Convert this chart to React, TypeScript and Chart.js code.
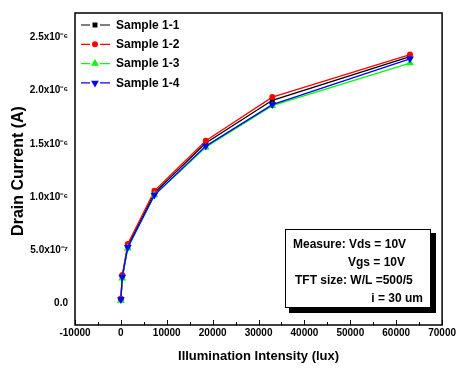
import React, { useEffect, useRef } from 'react';
import { Chart, registerables } from 'chart.js';
Chart.register(...registerables);

const illuminance = [0, 300, 1500, 7300, 18500, 33000, 63000];
const sample11 = [0.04e-6, 0.25e-6, 0.54e-6, 1.04e-6, 1.51e-6, 1.91e-6, 2.32e-6];
const sample12 = [0.05e-6, 0.27e-6, 0.56e-6, 1.06e-6, 1.53e-6, 1.94e-6, 2.34e-6];
const sample13 = [0.03e-6, 0.24e-6, 0.52e-6, 1.02e-6, 1.47e-6, 1.86e-6, 2.26e-6];
const sample14 = [0.04e-6, 0.25e-6, 0.53e-6, 1.02e-6, 1.48e-6, 1.87e-6, 2.30e-6];

const seriesNames = ['Sample 1-1', 'Sample 1-2', 'Sample 1-3', 'Sample 1-4'];
const seriesValues = [sample11, sample12, sample13, sample14];
const seriesColors = ['#000000', '#ff0000', '#00ff00', '#0000ff'];

const yTickValues = [0, 5e-7, 1e-6, 1.5e-6, 2e-6, 2.5e-6];
const yTickLabels = ['0.0', '5.0x10⁻⁷', '1.0x10⁻⁶', '1.5x10⁻⁶', '2.0x10⁻⁶', '2.5x10⁻⁶'];
const xTickValues = [-10000, 0, 10000, 20000, 30000, 40000, 50000, 60000, 70000];

const xTitle = 'Illumination Intensity (lux)';
const yTitle = 'Drain Current (A)';
const noteLines = ['Measure: Vds = 10V', 'Vgs = 10V', 'TFT size: W/L =500/5', 'i = 30 um'];

const FONT = "'Liberation Sans', Arial, sans-serif";
const pointStyles = ['rect', 'circle', 'triangle', 'triangle'];
const pointRotations = [0, 0, 0, 180];
const pointRadii = [3.5, 3, 4.5, 4.5];

function drawMarker(ctx: CanvasRenderingContext2D, i: number, x: number, y: number) {
  ctx.fillStyle = seriesColors[i];
  const r = pointRadii[i];
  ctx.beginPath();
  if (i === 0) {
    const s = r * Math.SQRT1_2;
    ctx.rect(x - s, y - s, 2 * s, 2 * s);
  } else if (i === 1) {
    ctx.arc(x, y, r, 0, Math.PI * 2);
  } else {
    const dir = i === 2 ? -1 : 1;
    ctx.moveTo(x, y + dir * r);
    ctx.lineTo(x - r * Math.sin(Math.PI / 3), y - dir * r * 0.5);
    ctx.lineTo(x + r * Math.sin(Math.PI / 3), y - dir * r * 0.5);
    ctx.closePath();
  }
  ctx.fill();
}

const overlayPlugin = {
  id: 'overlay',
  afterDraw(chart: any) {
    const ctx: CanvasRenderingContext2D = chart.ctx;
    const a = chart.chartArea;
    ctx.save();
    // frame
    ctx.strokeStyle = '#000';
    ctx.lineWidth = 1.5;
    ctx.strokeRect(a.left, a.top, a.right - a.left, a.bottom - a.top);
    // inward ticks bottom
    const xs = chart.scales.x;
    ctx.lineWidth = 1;
    for (let k = 0; k <= 16; k++) {
      const v = xTickValues[0] + k * 5000;
      const px = Math.round(xs.getPixelForValue(v)) + 0.5;
      const len = k % 2 === 0 ? 5 : 3;
      ctx.beginPath();
      ctx.moveTo(px, a.bottom);
      ctx.lineTo(px, a.bottom - len);
      ctx.stroke();
    }
    // legend
    ctx.font = `bold 12px ${FONT}`;
    ctx.textBaseline = 'middle';
    ctx.textAlign = 'left';
    for (let i = 0; i < 4; i++) {
      const y = 25 + i * 19.3;
      ctx.strokeStyle = seriesColors[i];
      ctx.lineWidth = 1.2;
      ctx.beginPath();
      ctx.moveTo(81, y); ctx.lineTo(90, y);
      ctx.moveTo(100, y); ctx.lineTo(110, y);
      ctx.stroke();
      drawMarker(ctx, i, 95, y);
      ctx.fillStyle = '#000';
      ctx.fillText(seriesNames[i], 116, y + 0.5);
    }
    // note box
    ctx.fillStyle = '#000';
    ctx.fillRect(289, 233, 147, 80);
    ctx.fillStyle = '#fff';
    ctx.fillRect(285, 229, 146, 79);
    ctx.strokeStyle = '#000';
    ctx.lineWidth = 1;
    ctx.strokeRect(285.5, 229.5, 145, 78);
    ctx.fillStyle = '#000';
    ctx.font = `bold 12px ${FONT}`;
    ctx.textAlign = 'left';
    ctx.fillText(noteLines[0], 293, 245);
    ctx.fillText(noteLines[1], 348, 263);
    ctx.fillText(noteLines[2], 295, 281);
    ctx.textAlign = 'right';
    ctx.fillText(noteLines[3], 423, 299);
    // axis titles
    ctx.font = `bold 13px ${FONT}`;
    ctx.textAlign = 'center';
    ctx.fillText(xTitle, (a.left + a.right) / 2, 356);
    ctx.font = `bold 16px ${FONT}`;
    ctx.translate(19, 171);
    ctx.rotate(-Math.PI / 2);
    ctx.fillText(yTitle, 0, 0);
    ctx.restore();
  },
};

export default function App() {
  const ref = useRef<HTMLCanvasElement>(null);
  useEffect(() => {
    if (!ref.current) return;
    const chart = new Chart(ref.current, {
      type: 'line',
      data: {
        datasets: seriesValues.map((vals, i) => ({
          label: seriesNames[i],
          data: illuminance.map((x, j) => ({ x, y: vals[j] })),
          borderColor: seriesColors[i],
          backgroundColor: seriesColors[i],
          borderWidth: 1.3,
          pointStyle: pointStyles[i] as any,
          rotation: pointRotations[i],
          pointRadius: pointRadii[i],
          pointBorderWidth: 0,
          tension: 0,
          order: 3 - i,
        })),
      },
      options: {
        responsive: false,
        animation: false,
        events: [],
        layout: { padding: { top: 12, right: 12, left: 0, bottom: 0 } },
        plugins: { legend: { display: false }, tooltip: { enabled: false } },
        scales: {
          x: {
            type: 'linear',
            min: -10000,
            max: 70000,
            grid: { display: false, drawTicks: false },
            border: { display: false },
            afterBuildTicks: (s: any) => { s.ticks = xTickValues.map((v) => ({ value: v })); },
            afterFit: (s: any) => { s.height = 46; },
            ticks: {
              autoSkip: false,
              maxRotation: 0,
              padding: 2,
              color: '#000',
              font: { family: FONT, size: 10, weight: 'bold' },
              callback: (v: any) => String(v),
            },
          },
          y: {
            type: 'linear',
            min: -2e-7,
            max: 2.73e-6,
            grid: { display: false, drawTicks: false },
            border: { display: false },
            afterBuildTicks: (s: any) => { s.ticks = yTickValues.map((v) => ({ value: v })); },
            afterFit: (s: any) => { s.width = 75; },
            ticks: {
              autoSkip: false,
              padding: 7,
              color: '#000',
              font: { family: FONT, size: 10, weight: 'bold' },
              callback: (v: any) => {
                const idx = yTickValues.findIndex((t) => Math.abs(t - v) < 1e-12);
                return idx >= 0 ? yTickLabels[idx] : '';
              },
            },
          },
        },
      },
      plugins: [overlayPlugin],
    });
    return () => chart.destroy();
  }, []);
  return (
    <div style={{ position: 'absolute', left: 0, top: 0, width: 458, height: 371, background: '#fff' }}>
      <canvas ref={ref} width={458} height={371} style={{ display: 'block' }} />
    </div>
  );
}
